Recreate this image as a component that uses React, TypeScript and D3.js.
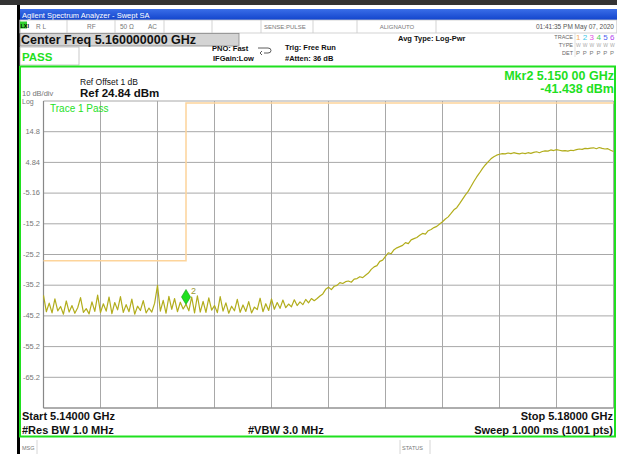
import React from 'react';
import * as d3 from 'd3';

// trace 1, sampled every 0.2 MHz from 5.140 to 5.180 GHz (dBm)
const traceDbm = [
  -38.5, -43.8, -41.0, -44.2, -39.6, -43.5, -42.1, -44.6, -40.3, -43.9,
  -41.8, -44.3, -42.5, -39.2, -44.0, -42.8, -44.5, -40.6, -43.7, -38.4,
  -44.1, -41.2, -43.6, -39.0, -44.4, -40.8, -43.2, -38.9, -44.0, -41.5,
  -43.8, -39.7, -44.6, -42.0, -43.4, -40.2, -44.2, -42.6, -43.9, -41.0,
  -35.2, -43.6, -40.1, -44.3, -38.8, -43.0, -39.5, -43.8, -40.7, -42.9,
  -41.4, -43.5, -39.0, -44.2, -38.6, -43.9, -40.4, -44.0, -39.3, -43.3,
  -41.8, -44.1, -38.9, -43.6, -40.9, -44.3, -42.0, -43.5, -39.8, -44.0,
  -41.6, -43.7, -40.5, -44.2, -42.3, -43.1, -39.4, -43.8, -41.2, -43.4,
  -39.6, -43.0, -40.8, -42.7, -40.0, -42.5, -41.3, -42.2, -39.9, -41.8,
  -40.6, -41.5, -39.8, -40.9, -39.5, -40.2, -39.5, -38.7, -38.0, -36.5,
  -35.8, -36.6, -35.5, -35.2, -34.3, -34.6, -34.0, -33.8, -34.2, -33.2,
  -33.0, -32.4, -32.7, -31.9, -31.2, -30.0, -29.2, -28.8, -27.4, -27.0,
  -25.8, -24.6, -24.9, -23.6, -23.0, -22.6, -22.2, -21.3, -21.6, -20.4,
  -20.0, -19.6, -18.9, -18.3, -18.5, -17.4, -17.0, -16.4, -16.0, -15.2,
  -14.5, -13.6, -12.9, -11.8, -10.6, -9.9, -8.6, -7.2, -5.8, -4.6,
  -3.0, -1.4, 0.1, 1.4, 2.8, 4.0, 5.0, 6.0, 6.7, 7.2,
  7.5, 7.7, 7.6, 7.9, 7.7, 8.0, 7.8, 7.6, 7.9, 7.7,
  8.0, 7.8, 8.1, 8.3, 8.0, 8.4, 8.6, 8.5, 8.9, 8.7,
  9.0, 8.8, 8.6, 8.7, 8.5, 8.8, 8.7, 9.0, 9.2, 9.1,
  9.4, 9.3, 9.5, 9.6, 9.3, 9.7, 9.4, 9.2, 9.3, 8.8,
  8.4,
];
const traceStartGHz = 5.14;
const traceStepGHz = 0.0002;

// limit line [GHz, dBm]
const limitLine: [number, number][] = [
  [5.14, -27.2],
  [5.15, -27.2],
  [5.15, 24.2],
  [5.18, 24.2],
];

const yTickLabels = ['14.8', '4.84', '-5.16', '-15.2', '-25.2', '-35.2', '-45.2', '-55.2', '-65.2'];
const refLevel = 24.84;
const dbPerDiv = 10;
const marker = { freq: 5.15, value: -41.438, label: '2' };
const statusCells = [20, 67, 115, 164, 212, 261, 313, 357, 436, 617];
const traceColors = ['#f5b060', '#40c8e8', '#e050e0', '#40d060', '#5060f0', '#b040f0'];

const FONT = '"Liberation Sans", Arial, sans-serif';
const GREEN = '#1fe01f';

export default function App() {
  const left = 43.5, right = 613.5, top = 101, bottom = 408;
  const x = d3.scaleLinear().domain([5.14, 5.18]).range([left, right]);
  const y = d3.scaleLinear().domain([refLevel - 10 * dbPerDiv, refLevel]).range([bottom, top]);

  const traceData = traceDbm.map((v, i) => [traceStartGHz + i * traceStepGHz, v] as [number, number]);
  const line = d3.line<[number, number]>().x(d => x(d[0])).y(d => y(d[1]));

  const vGrid = d3.range(0, 11).map(i => 5.14 + i * 0.004);
  const hGrid = d3.range(0, 11).map(i => refLevel - i * dbPerDiv);

  const mx = x(marker.freq), my = y(marker.value);

  return (
    <svg width={617} height={454} style={{ position: 'absolute', left: 0, top: 0, background: '#fff' }} fontFamily={FONT}>
      {/* outer window edges */}
      <rect x={0} y={0} width={617} height={5} fill="#333" />
      <rect x={17} y={5} width={3} height={449} fill="#000" />

      {/* title bar */}
      <defs>
        <linearGradient id="titleGrad" x1="0" x2="0" y1="0" y2="1">
          <stop offset="0%" stopColor="#3a6ee8" />
          <stop offset="100%" stopColor="#1244cc" />
        </linearGradient>
      </defs>
      <rect x={20} y={9} width={597} height={11} fill="url(#titleGrad)" />
      <text x={22} y={18} fontSize={7.5} fill="#fff">Agilent Spectrum Analyzer - Swept SA</text>

      {/* status row */}
      <rect x={20} y={20} width={597} height={13} fill="#fff" stroke="#c8c8c8" strokeWidth={0.8} />
      {statusCells.map((c, i) => (
        <line key={i} x1={c} x2={c} y1={20} y2={33} stroke="#c8c8c8" strokeWidth={0.8} />
      ))}
      <rect x={20} y={21.5} width={7} height={7} fill="#30d030" />
      <text x={20.5} y={28} fontSize={5.5} fontWeight="bold" fill="#000">LXI</text>
      <g fontSize={6.5} fill="#777">
        <text x={36} y={29}>R L</text>
        <text x={87} y={29}>RF</text>
        <text x={120} y={29}>50 Ω</text>
        <text x={148} y={29}>AC</text>
        <text x={264} y={29} fontSize={6}>SENSE:PULSE</text>
        <text x={397} y={29} textAnchor="middle" fontSize={6}>ALIGNAUTO</text>
        <text x={614} y={29} textAnchor="end" fill="#555">01:41:35 PM May 07, 2020</text>
      </g>

      {/* center freq */}
      <rect x={20} y={33.5} width={219} height={12.5} fill="#d4d4d4" stroke="#888" strokeWidth={0.8} />
      <text x={21} y={44} fontSize={12.5} fontWeight="bold" fill="#111">Center Freq 5.160000000 GHz</text>

      {/* pass */}
      <rect x={20} y={47} width={59} height={18} fill="#fff" stroke="#bbb" strokeWidth={0.8} />
      <text x={22} y={60.5} fontSize={11.5} fontWeight="bold" fill={GREEN}>PASS</text>

      <g fontSize={7.5} fontWeight="bold" fill="#111">
        <text x={212} y={51}>PNO: Fast</text>
        <text x={213} y={61}>IFGain:Low</text>
        <text x={285} y={50}>Trig: Free Run</text>
        <text x={285} y={61}>#Atten: 36 dB</text>
        <text x={398} y={41}>Avg Type: Log-Pwr</text>
      </g>
      <path d="M258,48 h10 a3,2.5 0 0 1 0,5 h-4 M262,51 l-2,2 l2,2" fill="none" stroke="#333" strokeWidth={0.8} />

      {/* trace / type / det block */}
      <g fontSize={5.5} fill="#666" textAnchor="end">
        <text x={573} y={39}>TRACE</text>
        <text x={573} y={47}>TYPE</text>
        <text x={573} y={55}>DET</text>
      </g>
      <line x1={575} x2={575} y1={33} y2={57} stroke="#ccc" strokeWidth={0.6} />
      {traceColors.map((c, i) => (
        <g key={i}>
          <text x={576 + i * 6.8} y={40} fontSize={8} fill={c}>{i + 1}</text>
          <text x={576 + i * 6.8} y={47} fontSize={5} fill="#aaa">W</text>
          <text x={576 + i * 6.8} y={55} fontSize={6} fill="#777">P</text>
        </g>
      ))}

      {/* main frame */}
      <rect x={20} y={66.5} width={595} height={370} fill="none" stroke={GREEN} strokeWidth={2} />

      <text x={80} y={85} fontSize={8.5} fill="#111">Ref Offset 1 dB</text>
      <text x={80} y={97} fontSize={11.5} fontWeight="bold" fill="#111">Ref 24.84 dBm</text>
      <text x={22} y={96} fontSize={7.5} fill="#777">10 dB/div</text>
      <text x={22} y={104} fontSize={7} fill="#777">Log</text>

      <text x={614} y={80} fontSize={12.5} fontWeight="bold" fill={GREEN} textAnchor="end">Mkr2 5.150 00 GHz</text>
      <text x={614} y={93} fontSize={12.5} fontWeight="bold" fill={GREEN} textAnchor="end">-41.438 dBm</text>

      {/* grid */}
      {vGrid.map((f, i) => (
        <line key={'v' + i} x1={x(f)} x2={x(f)} y1={top} y2={bottom} stroke="#a8a8a8" strokeWidth={1} />
      ))}
      {hGrid.map((v, i) => (
        <line key={'h' + i} x1={left} x2={right} y1={y(v)} y2={y(v)} stroke="#a8a8a8" strokeWidth={1} />
      ))}
      <line x1={left} x2={left} y1={top} y2={bottom} stroke="#888" strokeWidth={1.2} />
      <line x1={left} x2={right} y1={bottom} y2={bottom} stroke="#888" strokeWidth={1.2} />

      {yTickLabels.map((t, i) => (
        <text key={t} x={40} y={y(hGrid[i + 1])} dy="0.3em" fontSize={7.5} fill="#777" textAnchor="end">{t}</text>
      ))}

      <text x={50} y={112} fontSize={10} fill={GREEN}>Trace 1 Pass</text>

      {/* limit line */}
      <path d={line(limitLine) || ''} fill="none" stroke="#fdd49a" strokeWidth={1.5} />

      {/* trace */}
      <path d={line(traceData) || ''} fill="none" stroke="#b2ad1c" strokeWidth={1.2} strokeLinejoin="round" />

      {/* marker */}
      <path d={`M${mx},${my} L${mx - 4.5},${my - 7.5} L${mx},${my - 15} L${mx + 4.5},${my - 7.5} Z`} fill={GREEN} stroke="#119911" strokeWidth={0.6} />
      <text x={mx + 5} y={my - 10} fontSize={9} fill="#9a9a30">{marker.label}</text>

      {/* bottom annotation */}
      <g fontSize={11} fontWeight="bold" fill="#111">
        <text x={22} y={420}>Start 5.14000 GHz</text>
        <text x={22} y={434}>#Res BW 1.0 MHz</text>
        <text x={248} y={434}>#VBW 3.0 MHz</text>
        <text x={613} y={420} textAnchor="end">Stop 5.18000 GHz</text>
        <text x={613} y={434} textAnchor="end">Sweep  1.000 ms (1001 pts)</text>
      </g>

      {/* status bar */}
      <line x1={37} x2={37} y1={440} y2={454} stroke="#ccc" strokeWidth={0.8} />
      <line x1={400} x2={400} y1={440} y2={454} stroke="#ccc" strokeWidth={0.8} />
      <line x1={430} x2={430} y1={440} y2={454} stroke="#ccc" strokeWidth={0.8} />
      <text x={22} y={450} fontSize={5.5} fill="#777">MSG</text>
      <text x={402} y={450} fontSize={5.5} fill="#777">STATUS</text>
    </svg>
  );
}
